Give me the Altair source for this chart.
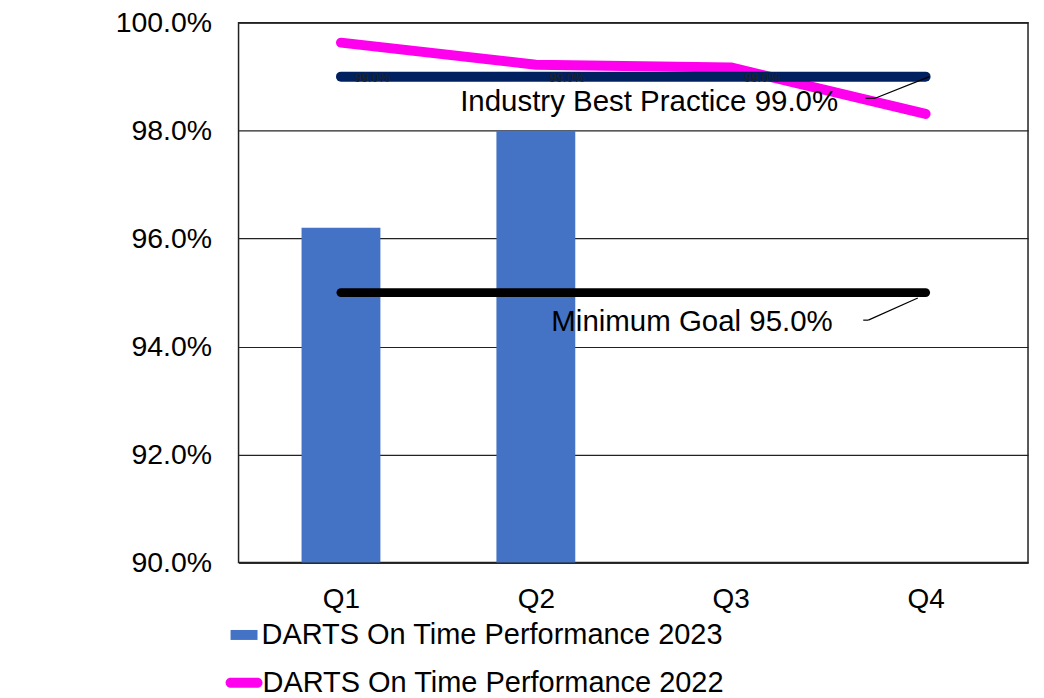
import altair as alt
import pandas as pd

# ---- data ----
quarters = ["Q1", "Q2", "Q3", "Q4"]
quarter_idx = [0, 1, 2, 3]
otp_2023 = [0.962, 0.980, None, None]
otp_2022 = [0.9963, 0.9922, 0.9917, 0.9831]
industry_best = [0.99, 0.99, 0.99, 0.99]
minimum_goal = [0.95, 0.95, 0.95, 0.95]
y_ticks = [0.90, 0.92, 0.94, 0.96, 0.98, 1.00]

series_2023 = "DARTS On Time Performance 2023"
series_2022 = "DARTS On Time Performance 2022"
best_name = "Industry Best Practice"
goal_name = "Minimum Goal"

FONT = "Liberation Sans"
BLUE = "#4472C4"
MAGENTA = "#FF00EE"
NAVY = "#002060"

df = pd.DataFrame({
    "idx": quarter_idx,
    "q": quarters,
    "v2023": otp_2023,
    "v2022": otp_2022,
    "best": industry_best,
    "goal": minimum_goal,
})

label_expr = "[" + ",".join(f"'{q}'" for q in quarters) + "][datum.value]"

xscale = alt.Scale(domain=[-0.5, 3.5], nice=False, zero=False)
yscale = alt.Scale(domain=[0.90, 1.00], nice=False, zero=False)

x_axis = alt.Axis(values=quarter_idx, labelExpr=label_expr, title=None, grid=False,
                  ticks=False, tickSize=0, domain=True, domainColor="#222", domainWidth=1.5,
                  labelFontSize=28, labelFont=FONT, labelColor="black", labelPadding=23)
y_axis = alt.Axis(values=y_ticks, format=".1%", title=None, grid=True, gridColor="#222",
                  gridWidth=1.2, ticks=False, tickSize=0, domain=False,
                  labelFontSize=28.5, labelFont=FONT, labelColor="black", labelPadding=27)

X = alt.X("idx:Q", scale=xscale, axis=x_axis)

base = alt.Chart(df)

bars = base.transform_filter("isValid(datum.v2023)").transform_calculate(
    s=f"'{series_2023}'"
).mark_bar(size=79).encode(
    x=X,
    y=alt.Y("v2023:Q", scale=yscale, axis=y_axis),
    y2=alt.datum(0.90),
    fill=alt.Fill("s:N", scale=alt.Scale(domain=[series_2023], range=[BLUE]),
                  legend=alt.Legend(title=None, orient="none", legendX=-9, legendY=599,
                                    symbolType="M-1,-0.37H1V0.37H-1Z", symbolSize=729,
                                    symbolStrokeWidth=0, labelFontSize=29, labelFont=FONT,
                                    labelColor="black", labelLimit=0, labelOffset=3)),
)

goal_line = base.mark_line(strokeWidth=9, strokeCap="round", color="black").encode(
    x=X, y=alt.Y("goal:Q", scale=yscale, axis=y_axis)
)

line_2022 = base.transform_calculate(s=f"'{series_2022}'").mark_line(
    strokeWidth=10, strokeCap="round", strokeJoin="round"
).encode(
    x=X,
    y=alt.Y("v2022:Q", scale=yscale, axis=y_axis),
    stroke=alt.Stroke("s:N", scale=alt.Scale(domain=[series_2022], range=[MAGENTA]),
                      legend=alt.Legend(title=None, orient="none", legendX=-13, legendY=643,
                                        symbolType="M-0.73,-0.27H0.73A0.27,0.27 0 0 1 0.73,0.27H-0.73A0.27,0.27 0 0 1 -0.73,-0.27Z",
                                        symbolSize=1369, symbolFillColor=MAGENTA,
                                        symbolStrokeWidth=0, labelFontSize=29, labelFont=FONT,
                                        labelColor="black", labelLimit=0, labelOffset=0)),
)

best_line = base.mark_line(strokeWidth=10, strokeCap="round", color=NAVY).encode(
    x=X, y=alt.Y("best:Q", scale=yscale, axis=y_axis)
)

small_labels = base.transform_filter("datum.idx < 3").mark_text(
    dx=31, dy=1, fontSize=12.5, font=FONT, color="#222"
).encode(
    x=X, y=alt.Y("best:Q", scale=yscale), text=alt.Text("best:Q", format=".1%")
)

# leader lines from the last point to the moved data labels
best_lead1 = base.transform_filter("datum.idx == 3").transform_calculate(
    xa="datum.idx + 0.02", xb="datum.idx - 0.259", yb="datum.best - 0.0040"
).mark_rule(color="black", strokeWidth=1.2).encode(
    x=alt.X("xa:Q", scale=xscale), x2="xb:Q",
    y=alt.Y("best:Q", scale=yscale), y2="yb:Q")
best_lead2 = base.transform_filter("datum.idx == 3").transform_calculate(
    xa="datum.idx - 0.259", xb="datum.idx - 0.309", yb="datum.best - 0.0040"
).mark_rule(color="black", strokeWidth=1.2).encode(
    x=alt.X("xa:Q", scale=xscale), x2="xb:Q",
    y=alt.Y("yb:Q", scale=yscale))
goal_lead1 = base.transform_filter("datum.idx == 3").transform_calculate(
    xa="datum.idx - 0.04", ya="datum.goal - 0.0010",
    xb="datum.idx - 0.294", yb="datum.goal - 0.0051"
).mark_rule(color="black", strokeWidth=1.2).encode(
    x=alt.X("xa:Q", scale=xscale), x2="xb:Q",
    y=alt.Y("ya:Q", scale=yscale), y2="yb:Q")
goal_lead2 = base.transform_filter("datum.idx == 3").transform_calculate(
    xa="datum.idx - 0.294", xb="datum.idx - 0.32", yb="datum.goal - 0.0051"
).mark_rule(color="black", strokeWidth=1.2).encode(
    x=alt.X("xa:Q", scale=xscale), x2="xb:Q",
    y=alt.Y("yb:Q", scale=yscale))

best_label = base.transform_filter("datum.idx == 3").transform_calculate(
    lbl=f"'{best_name} ' + format(datum.best, '.1%')"
).mark_text(dx=-277, dy=25, fontSize=29.5, font=FONT, color="black").encode(
    x=X, y=alt.Y("best:Q", scale=yscale), text="lbl:N")

goal_label = base.transform_filter("datum.idx == 3").transform_calculate(
    lbl=f"'{goal_name} ' + format(datum.goal, '.1%')"
).mark_text(dx=-234, dy=29.5, fontSize=29.5, font=FONT, color="black").encode(
    x=X, y=alt.Y("goal:Q", scale=yscale), text="lbl:N")

chart = alt.layer(
    bars, goal_line, line_2022, best_line, small_labels,
    best_lead1, best_lead2, goal_lead1, goal_lead2, best_label, goal_label
).resolve_scale(fill="independent", stroke="independent").properties(
    width=791, height=541,
    autosize=alt.AutoSizeParams(type="none"),
    padding={"left": 231, "top": 14, "right": 8, "bottom": 134},
    background="white",
).configure_view(stroke="#222", strokeWidth=1.5)

chart.save("out.html", embed_options={"renderer": "svg", "actions": False})
